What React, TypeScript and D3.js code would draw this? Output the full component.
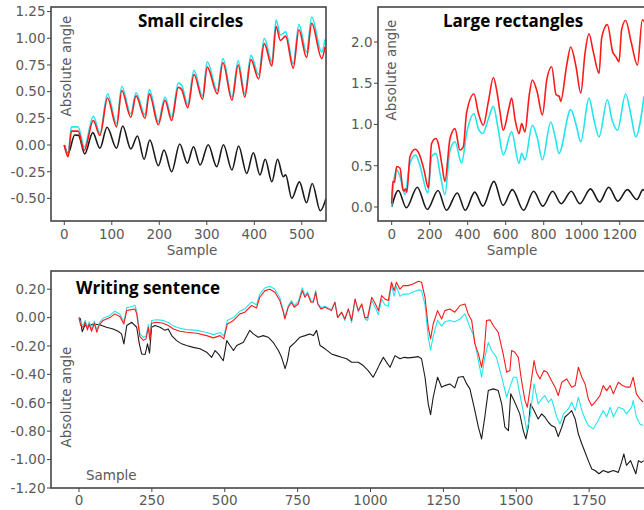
import React from 'react';
import * as d3 from 'd3';

type Pt = [number, number];

// ---- Small circles: [sample, absolute angle]
const circlesRed: Pt[] = [
  [0, 0.0], [8, -0.11], [15, 0.13], [29, 0.13], [42, -0.05], [61, 0.23], [75, 0.09], [91, 0.44],
  [110, 0.17], [121, 0.51], [140, 0.26], [151, 0.46], [170, 0.25], [179, 0.48], [198, 0.19],
  [212, 0.42], [226, 0.23], [240, 0.54], [247, 0.52], [260, 0.35], [273, 0.66], [291, 0.43],
  [301, 0.73], [322, 0.48], [334, 0.77], [353, 0.42], [366, 0.75], [380, 0.45], [393, 0.8],
  [409, 0.62], [421, 0.95], [437, 0.74], [446, 1.11], [455, 0.98], [466, 1.02], [482, 0.72],
  [494, 1.08], [510, 0.82], [521, 1.14], [542, 0.81], [549, 0.92],
];
const circlesCyan: Pt[] = [
  [0, 0.0], [8, -0.09], [15, 0.17], [29, 0.17], [42, -0.02], [61, 0.27], [75, 0.11], [91, 0.48],
  [110, 0.2], [121, 0.55], [140, 0.29], [151, 0.49], [170, 0.28], [179, 0.52], [198, 0.22],
  [212, 0.45], [226, 0.26], [240, 0.58], [247, 0.56], [260, 0.38], [273, 0.7], [291, 0.46],
  [301, 0.78], [322, 0.51], [334, 0.81], [353, 0.45], [366, 0.79], [380, 0.48], [393, 0.84],
  [409, 0.66], [421, 1.0], [437, 0.78], [446, 1.17], [455, 1.03], [466, 1.06], [482, 0.76],
  [494, 1.13], [510, 0.87], [521, 1.2], [542, 0.87], [549, 0.99],
];
const circlesBlack: Pt[] = [
  [0, 0.0], [8, -0.08], [22, 0.094], [30, 0.09], [43, -0.084], [60, 0.116], [75, -0.03],
  [90, 0.166], [110, -0.03], [123, 0.178], [140, -0.037], [154, 0.084], [168, -0.134],
  [180, 0.047], [198, -0.194], [210, -0.047], [226, -0.25], [243, 0.01], [259, -0.17],
  [272, -0.016], [286, -0.187], [303, 0.003], [321, -0.203], [335, 0.003], [353, -0.234],
  [367, -0.009], [384, -0.266], [398, -0.072], [412, -0.281], [423, -0.134], [437, -0.344],
  [449, -0.134], [461, -0.297], [466, -0.28], [479, -0.5], [495, -0.345], [510, -0.541],
  [522, -0.36], [539, -0.616], [551, -0.5],
];

// ---- Large rectangles
const rectRed: Pt[] = [
  [0, 0.04], [6, 0.31], [15, 0.3], [26, 0.49], [44, 0.47], [58, 0.22], [65, 0.19], [72, 0.22],
  [80, 0.18], [96, 0.61], [123, 0.7], [145, 0.64], [170, 0.45], [193, 0.23], [210, 0.77],
  [233, 0.83], [245, 0.77], [265, 0.5], [280, 0.31], [307, 0.83], [333, 0.95], [359, 0.69],
  [377, 0.73], [394, 1.14], [433, 1.37], [456, 1.14], [482, 0.99], [509, 1.28], [535, 1.57],
  [552, 1.42], [570, 1.15], [587, 0.93], [617, 1.2], [631, 1.32], [650, 1.05], [670, 0.89],
  [684, 1.01], [701, 0.91], [724, 1.36], [740, 1.54], [765, 1.4], [793, 1.115], [816, 1.54],
  [842, 1.7], [865, 1.36], [882, 1.34], [889, 1.28], [921, 1.72], [942, 1.94], [970, 1.7],
  [995, 1.38], [1017, 1.86], [1038, 2.1], [1061, 1.88], [1091, 1.62], [1105, 2.05],
  [1135, 2.21], [1163, 1.88], [1180, 1.82], [1196, 1.76], [1210, 2.15], [1231, 2.26],
  [1260, 2.0], [1293, 1.72], [1319, 2.27], [1340, 2.2],
];
const rectCyan: Pt[] = [
  [0, 0.0], [8, 0.25], [26, 0.45], [44, 0.37], [70, 0.15], [96, 0.53], [126, 0.63], [145, 0.53],
  [191, 0.17], [210, 0.61], [233, 0.65], [255, 0.4], [280, 0.15], [307, 0.69], [333, 0.79],
  [368, 0.53], [394, 0.89], [433, 1.13], [456, 0.95], [479, 0.89], [509, 1.07], [535, 1.22],
  [560, 0.95], [587, 0.63], [631, 0.91], [670, 0.53], [684, 0.65], [701, 0.57], [740, 0.99],
  [765, 0.85], [793, 0.57], [837, 1.03], [860, 0.85], [880, 0.65], [942, 1.18], [970, 1.0],
  [995, 0.79], [1038, 1.32], [1065, 1.05], [1091, 0.85], [1135, 1.3], [1160, 1.05],
  [1188, 0.93], [1231, 1.37], [1260, 1.1], [1284, 0.85], [1328, 1.34],
];
const rectBlack: Pt[] = [
  [0, 0.0], [35, 0.2], [77, -0.01], [135, 0.24], [187, -0.03], [244, 0.2], [288, -0.04],
  [345, 0.17], [387, -0.04], [437, 0.18], [480, 0.01], [538, 0.31], [586, 0.02], [635, 0.21],
  [694, -0.04], [747, 0.19], [795, 0.01], [847, 0.19], [892, 0.04], [945, 0.19], [990, 0.04],
  [1046, 0.22], [1094, 0.06], [1142, 0.24], [1190, 0.07], [1240, 0.21], [1290, 0.09],
  [1323, 0.21], [1345, 0.12],
];

// ---- Writing sentence
const writeRed: Pt[] = [
  [0, 0.0], [6, -0.056], [15, -0.07], [21, -0.033], [29, -0.087], [35, -0.045], [43, -0.096],
  [53, -0.04], [61, -0.103], [70, -0.05], [83, -0.02], [106, 0.0], [123, 0.026], [140, 0.007],
  [154, -0.045], [164, 0.05], [175, 0.054], [192, 0.06], [198, 0.026], [209, -0.134],
  [221, -0.16], [230, -0.15], [238, -0.068], [243, -0.16], [249, -0.04], [266, -0.033],
  [289, -0.04], [306, -0.056], [324, -0.08], [346, -0.096], [369, -0.103], [404, -0.11],
  [438, -0.127], [461, -0.143], [484, -0.127], [497, -0.15], [509, -0.045], [530, -0.02],
  [552, 0.026], [569, 0.038], [592, 0.085], [609, 0.068], [620, 0.143], [638, 0.19],
  [655, 0.2], [672, 0.178], [689, 0.12], [701, 0.038], [706, -0.01], [718, 0.073],
  [729, 0.108], [738, 0.073], [752, 0.096], [766, 0.19], [775, 0.143], [784, 0.167],
  [796, 0.108], [804, 0.108], [812, 0.178], [819, 0.096], [830, 0.061], [844, 0.073],
  [866, 0.049], [878, 0.108], [887, 0.0], [901, 0.038], [912, -0.01], [924, 0.061],
  [935, -0.02], [947, 0.131], [958, 0.049], [970, 0.096], [981, 0.0], [990, 0.0],
  [1004, 0.143], [1017, 0.096], [1027, 0.049], [1038, 0.155], [1049, 0.131], [1061, 0.12],
  [1072, 0.249], [1081, 0.19], [1089, 0.249], [1101, 0.2], [1112, 0.225], [1129, 0.225],
  [1146, 0.237], [1164, 0.256], [1175, 0.249], [1187, 0.143], [1198, -0.068], [1206, -0.15],
  [1215, -0.045], [1230, 0.049], [1244, -0.01], [1255, 0.049], [1272, 0.061], [1289, 0.038],
  [1307, 0.085], [1324, 0.096], [1335, 0.026], [1347, -0.02], [1358, -0.185], [1370, -0.256],
  [1381, -0.35], [1389, -0.256], [1398, -0.02], [1410, -0.016], [1421, -0.056], [1438, -0.103],
  [1455, -0.256], [1467, -0.385], [1478, -0.373], [1484, -0.232], [1495, -0.244],
  [1507, -0.28], [1518, -0.444], [1530, -0.585], [1538, -0.631], [1549, -0.479],
  [1561, -0.303], [1569, -0.385], [1581, -0.432], [1595, -0.373], [1606, -0.385],
  [1621, -0.444], [1633, -0.49], [1644, -0.549], [1656, -0.455], [1673, -0.432],
  [1690, -0.49], [1702, -0.479], [1713, -0.35], [1725, -0.42], [1736, -0.467], [1747, -0.573],
  [1759, -0.62], [1770, -0.596], [1787, -0.549], [1798, -0.479], [1810, -0.514],
  [1822, -0.479], [1833, -0.537], [1850, -0.455], [1865, -0.479], [1878, -0.49],
  [1890, -0.49], [1901, -0.42], [1912, -0.537], [1924, -0.573], [1935, -0.596],
];
const writeCyan: Pt[] = [
  [0, 0.0], [6, -0.04], [15, -0.055], [21, -0.02], [29, -0.07], [35, -0.03], [43, -0.08],
  [53, -0.025], [61, -0.09], [70, -0.035], [83, -0.005], [106, 0.015], [123, 0.045],
  [140, 0.025], [154, -0.03], [164, 0.07], [175, 0.075], [192, 0.085], [198, 0.045],
  [209, -0.115], [221, -0.14], [230, -0.13], [238, -0.05], [243, -0.14], [249, -0.02],
  [266, -0.015], [289, -0.02], [306, -0.035], [324, -0.06], [346, -0.075], [369, -0.085],
  [404, -0.09], [438, -0.105], [461, -0.12], [484, -0.105], [497, -0.13], [509, -0.02],
  [530, 0.0], [552, 0.045], [569, 0.062], [592, 0.11], [609, 0.09], [620, 0.165], [638, 0.21],
  [655, 0.22], [672, 0.2], [689, 0.14], [701, 0.05], [706, 0.0], [718, 0.085], [729, 0.12],
  [738, 0.085], [752, 0.11], [766, 0.21], [775, 0.155], [784, 0.18], [796, 0.12], [804, 0.115],
  [812, 0.19], [819, 0.1], [830, 0.07], [844, 0.08], [866, 0.055], [878, 0.11], [887, 0.0],
  [901, 0.035], [912, -0.02], [924, 0.06], [935, -0.035], [947, 0.13], [958, 0.04], [970, 0.09],
  [981, -0.01], [990, -0.02], [1004, 0.12], [1017, 0.07], [1027, 0.02], [1038, 0.13],
  [1049, 0.09], [1061, 0.08], [1072, 0.23], [1081, 0.15], [1089, 0.22], [1101, 0.15],
  [1112, 0.165], [1129, 0.165], [1146, 0.18], [1164, 0.195], [1175, 0.19], [1187, 0.09],
  [1198, -0.14], [1206, -0.23], [1215, -0.13], [1230, -0.02], [1244, -0.06], [1255, -0.03],
  [1272, -0.02], [1289, -0.03], [1307, -0.01], [1324, 0.026], [1341, -0.068], [1352, -0.115],
  [1370, -0.303], [1381, -0.42], [1392, -0.28], [1404, -0.174], [1415, -0.232], [1432, -0.28],
  [1450, -0.42], [1467, -0.561], [1478, -0.49], [1490, -0.42], [1501, -0.42], [1512, -0.537],
  [1530, -0.725], [1536, -0.796], [1547, -0.7], [1561, -0.467], [1575, -0.608], [1587, -0.573],
  [1598, -0.549], [1610, -0.596], [1621, -0.573], [1639, -0.7], [1650, -0.749], [1662, -0.678],
  [1679, -0.643], [1690, -0.596], [1702, -0.655], [1713, -0.561], [1725, -0.655],
  [1736, -0.714], [1747, -0.76], [1764, -0.784], [1781, -0.725], [1798, -0.655], [1810, -0.7],
  [1822, -0.631], [1833, -0.7], [1850, -0.631], [1867, -0.643], [1878, -0.678],
  [1896, -0.631], [1901, -0.584], [1912, -0.7], [1924, -0.749], [1935, -0.76],
];
const writeBlack: Pt[] = [
  [0, 0.0], [5, -0.01], [11, -0.1], [20, -0.056], [34, -0.06], [48, -0.045], [71, -0.05],
  [94, -0.068], [117, -0.08], [134, -0.096], [146, -0.115], [154, -0.185], [164, -0.056],
  [181, -0.033], [198, -0.068], [207, -0.185], [215, -0.256], [227, -0.26], [235, -0.185],
  [242, -0.25], [249, -0.068], [261, -0.056], [278, -0.068], [295, -0.09], [306, -0.08],
  [318, -0.127], [335, -0.162], [352, -0.185], [369, -0.197], [392, -0.21], [415, -0.22],
  [438, -0.244], [455, -0.28], [467, -0.232], [478, -0.256], [490, -0.29], [495, -0.303],
  [507, -0.162], [518, -0.197], [530, -0.232], [541, -0.197], [564, -0.174], [586, -0.09],
  [598, -0.115], [615, -0.138], [632, -0.127], [649, -0.138], [666, -0.174], [684, -0.232],
  [695, -0.28], [707, -0.36], [715, -0.303], [723, -0.209], [741, -0.174], [758, -0.138],
  [775, -0.127], [792, -0.115], [804, -0.127], [815, -0.09], [827, -0.197], [844, -0.22],
  [866, -0.256], [883, -0.268], [901, -0.28], [918, -0.29], [935, -0.315], [958, -0.315],
  [975, -0.338], [992, -0.373], [1009, -0.42], [1021, -0.373], [1032, -0.326], [1044, -0.28],
  [1055, -0.315], [1067, -0.35], [1084, -0.268], [1101, -0.29], [1116, -0.28], [1129, -0.284],
  [1146, -0.28], [1164, -0.275], [1175, -0.29], [1187, -0.42], [1198, -0.608], [1206, -0.683],
  [1215, -0.561], [1230, -0.42], [1244, -0.49], [1255, -0.479], [1272, -0.467], [1289, -0.495],
  [1301, -0.42], [1318, -0.415], [1330, -0.467], [1341, -0.502], [1358, -0.655], [1370, -0.772],
  [1381, -0.854], [1392, -0.7], [1404, -0.514], [1421, -0.502], [1438, -0.514], [1450, -0.608],
  [1461, -0.772], [1473, -0.796], [1481, -0.537], [1495, -0.596], [1512, -0.678],
  [1524, -0.796], [1533, -0.854], [1541, -0.772], [1549, -0.608], [1561, -0.655],
  [1575, -0.714], [1587, -0.678], [1598, -0.7], [1610, -0.737], [1621, -0.76], [1633, -0.772],
  [1644, -0.838], [1656, -0.772], [1667, -0.7], [1679, -0.678], [1690, -0.655], [1702, -0.714],
  [1713, -0.82], [1725, -0.89], [1736, -0.948], [1747, -1.007], [1759, -1.066], [1770, -1.077],
  [1784, -1.1], [1798, -1.077], [1815, -1.09], [1833, -1.077], [1850, -1.09], [1861, -1.02],
  [1869, -0.96], [1878, -1.04], [1892, -1.007], [1901, -1.054], [1910, -1.1], [1919, -1.007],
  [1929, -1.02], [1937, -1.007],
];

// tick values
const circlesXTicks = [0, 100, 200, 300, 400, 500];
const circlesYTicks = [-0.5, -0.25, 0, 0.25, 0.5, 0.75, 1.0, 1.25];
const rectXTicks = [0, 200, 400, 600, 800, 1000, 1200];
const rectYTicks = [0, 0.5, 1.0, 1.5, 2.0];
const writeXTicks = [0, 250, 500, 750, 1000, 1250, 1500, 1750];
const writeYTicks = [-1.2, -1.0, -0.8, -0.6, -0.4, -0.2, 0, 0.2];

const RED = '#ff1a1a';
const CYAN = '#22e5ee';
const BLACK = '#1a1a1a';
const AXIS = '#454545';
const LABEL = '#595959';
const TICK_FONT = '"DejaVu Sans", sans-serif';
const TITLE_FONT = '"Open Sans", sans-serif';
const FS = 13.5;

interface PanelProps {
  id: string;
  x0: number; x1: number; y0: number; y1: number;
  xDomain: [number, number];
  yDomain: [number, number];
  xTicks: number[];
  yTicks: number[];
  digits: number;
  series: { data: Pt[]; color: string }[];
  lineWidth: number;
  curve: d3.CurveFactory;
  title: string;
  titleX: number; titleY: number;
  yLabel: [number, number];
  xLabel: [number, number, string];
  xTickY: number;
}

function Panel(p: PanelProps) {
  const x = d3.scaleLinear().domain(p.xDomain).range([p.x0, p.x1]);
  const y = d3.scaleLinear().domain(p.yDomain).range([p.y1, p.y0]);
  const line = d3.line<Pt>().x(d => x(d[0])).y(d => y(d[1])).curve(p.curve);
  const fmt = (v: number) => v.toFixed(p.digits);

  return (
    <g>
      <defs>
        <clipPath id={p.id}>
          <rect x={p.x0} y={p.y0} width={p.x1 - p.x0} height={p.y1 - p.y0} />
        </clipPath>
      </defs>
      <rect x={p.x0} y={p.y0} width={p.x1 - p.x0} height={p.y1 - p.y0} fill="#fff" />
      <g clipPath={`url(#${p.id})`}>
        {p.series.map((s, i) => (
          <path key={i} d={line(s.data) || ''} fill="none" stroke={s.color}
            strokeWidth={p.lineWidth} strokeLinejoin="round" />
        ))}
      </g>
      <rect x={p.x0} y={p.y0} width={p.x1 - p.x0} height={p.y1 - p.y0}
        fill="none" stroke={AXIS} strokeWidth={1.6} />

      {p.yTicks.map(t => (
        <g key={'y' + t}>
          <line x1={p.x0 - 4} x2={p.x0} y1={y(t)} y2={y(t)} stroke={AXIS} strokeWidth={1} />
          <text x={p.x0 - 5.5} y={y(t)} dy="0.36em" textAnchor="end"
            fontFamily={TICK_FONT} fontSize={FS} fill={LABEL}>{fmt(t)}</text>
        </g>
      ))}
      {p.xTicks.map(t => (
        <g key={'x' + t}>
          <line x1={x(t)} x2={x(t)} y1={p.y1} y2={p.y1 + 4} stroke={AXIS} strokeWidth={1} />
          <text x={x(t)} y={p.xTickY} textAnchor="middle"
            fontFamily={TICK_FONT} fontSize={FS} fill={LABEL}>{t}</text>
        </g>
      ))}

      <text transform={`translate(${p.yLabel[0]},${p.yLabel[1]}) rotate(-90)`} textAnchor="middle"
        fontFamily={TICK_FONT} fontSize={FS} fill={LABEL}>Absolute angle</text>
      <text x={p.xLabel[0]} y={p.xLabel[1]} textAnchor={p.xLabel[2] as any}
        fontFamily={TICK_FONT} fontSize={FS} fill={LABEL}>Sample</text>
      <text x={p.titleX} y={p.titleY} fontFamily={TITLE_FONT} fontWeight="bold"
        fontSize={17} fill="#000">{p.title}</text>
    </g>
  );
}

export default function App() {
  return (
    <svg width={644} height={510} style={{ position: 'fixed', left: 0, top: 0, background: '#fff' }}>
      <Panel id="clipA" x0={51} x1={326} y0={7} y1={221}
        xDomain={[-28, 551]} yDomain={[-0.712, 1.293]}
        xTicks={circlesXTicks} yTicks={circlesYTicks} digits={2}
        series={[{ data: circlesBlack, color: BLACK }, { data: circlesCyan, color: CYAN }, { data: circlesRed, color: RED }]}
        lineWidth={1.6} curve={d3.curveMonotoneX}
        title="Small circles" titleX={138} titleY={27}
        yLabel={[71, 66]} xLabel={[192, 255, 'middle']} xTickY={239} />
      <Panel id="clipB" x0={378} x1={653} y0={7} y1={221}
        xDomain={[-72, 1375]} yDomain={[-0.17, 2.424]}
        xTicks={rectXTicks} yTicks={rectYTicks} digits={1}
        series={[{ data: rectBlack, color: BLACK }, { data: rectCyan, color: CYAN }, { data: rectRed, color: RED }]}
        lineWidth={1.6} curve={d3.curveMonotoneX}
        title="Large rectangles" titleX={443} titleY={27}
        yLabel={[396, 70]} xLabel={[512, 255, 'middle']} xTickY={239} />
      <Panel id="clipC" x0={51} x1={660} y0={271} y1={488}
        xDomain={[-96, 1993]} yDomain={[-1.2, 0.328]}
        xTicks={writeXTicks} yTicks={writeYTicks} digits={2}
        series={[{ data: writeBlack, color: BLACK }, { data: writeCyan, color: CYAN }, { data: writeRed, color: RED }]}
        lineWidth={1.1} curve={d3.curveLinear}
        title="Writing sentence" titleX={76} titleY={294}
        yLabel={[70.5, 397]} xLabel={[86, 480, 'start']} xTickY={505} />
    </svg>
  );
}
